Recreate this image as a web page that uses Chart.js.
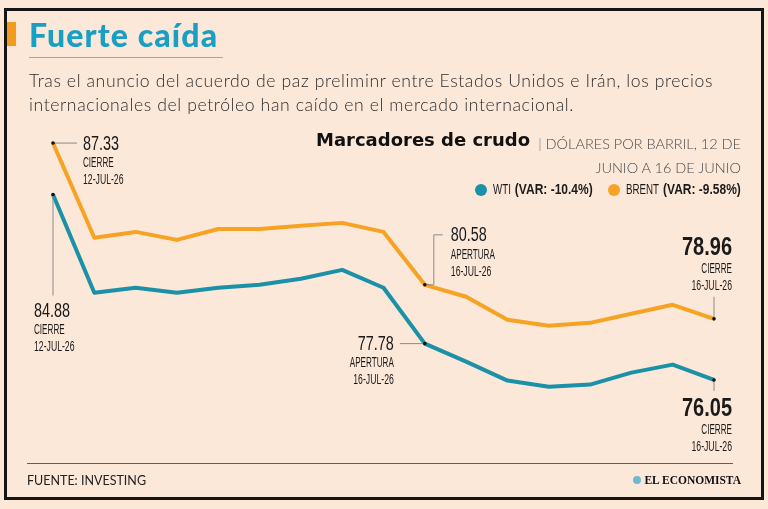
<!DOCTYPE html>
<html>
<head>
<meta charset="utf-8">
<script src="https://cdn.jsdelivr.net/npm/chart.js@4.4.0/dist/chart.umd.min.js"></script>
<style>
  html, body { margin: 0; padding: 0; background: #fce8d9; }
  #wrap { position: relative; width: 768px; height: 509px; overflow: hidden; }
  #frame { position: absolute; left: 4px; top: 8px; width: 754px; height: 486px; border: 3px solid #151515; }
  #chart { position: absolute; left: 0; top: 0; }
  .t { position: absolute; white-space: nowrap; }
  #mark { position: absolute; left: 7px; top: 22px; width: 9px; height: 24px; background: #f39b1c; }
  #title { left: 29px; top: 15px; font: 900 32px Lato, sans-serif; color: #189fc3; letter-spacing: 1.1px; line-height: normal; }
  #uline { position: absolute; left: 29px; top: 57px; width: 194px; height: 1px; background: #5cbfd6; }
  #sub { left: 29px; top: 69px; font: 300 17.6px Lato, sans-serif; color: #2c2c2c; line-height: 24px; letter-spacing: 0.6px; }
  #ctitle { left: 316px; top: 129px; font: 700 18px "DejaVu Sans", sans-serif; color: #111; }
  #cunits { right: 27px; top: 132px; font: 300 14.5px Lato, sans-serif; color: #4a4a4a; text-align: right; line-height: 24px; }
  #fuente { left: 27px; top: 473px; font: 400 12.5px Lato, sans-serif; color: #222; }
  #brand { right: 27px; top: 474px; font: 700 11.5px "Liberation Serif", serif; color: #111; }
  #brand span { display: inline-block; width: 8px; height: 8px; border-radius: 50%; background: #6fb8cf; margin-right: 3px; }
</style>
</head>
<body>
<div id="wrap">
  <canvas id="chart" width="768" height="509"></canvas>
  <div id="frame"></div>
  <div id="mark"></div>
  <div class="t" id="title">Fuerte caída</div>
  <div id="uline"></div>
  <div class="t" id="sub">Tras el anuncio del acuerdo de paz preliminr entre Estados Unidos e Irán, los precios<br>internacionales del petróleo han caído en el mercado internacional.</div>
  <div class="t" id="ctitle">Marcadores de crudo</div>
  <div class="t" id="cunits"><span style="color:#777">|</span> DÓLARES POR BARRIL, 12 DE<br>JUNIO A 16 DE JUNIO</div>
  <div class="t" id="fuente">FUENTE: INVESTING</div>
  <div class="t" id="brand"><span></span>EL ECONOMISTA</div>
</div>
<script>
// datos
const fechas = ['12-jul-26', 'p2', 'p3', 'p4', 'p5', 'p6', 'p7', 'p8', 'p9', '16-jul-26', 'p11', 'p12', 'p13', 'p14', 'p15', 'p16', '16-jul-26 c'];
const wti = [84.88, 80.20, 80.44, 80.20, 80.44, 80.58, 80.87, 81.29, 80.44, 77.78, 76.92, 76.02, 75.73, 75.83, 76.40, 76.78, 76.05];
const brent = [87.33, 82.82, 83.10, 82.72, 83.24, 83.24, 83.39, 83.53, 83.10, 80.58, 80.01, 78.92, 78.63, 78.77, 79.20, 79.63, 78.96];
const leyenda = [
    { nombre: 'WTI', variacion: '(VAR: -10.4%)' },
    { nombre: 'BRENT', variacion: '(VAR: -9.58%)' }
];

const colorWti = '#1a91a7';
const colorBrent = '#f6a323';
const fuente = '"Liberation Sans", Arial, sans-serif';

// etiquetas de los puntos
const notas = [
    { ds: 1, i: 0, valor: '87.33', l1: 'CIERRE', l2: '12-JUL-26' },
    { ds: 0, i: 0, valor: '84.88', l1: 'CIERRE', l2: '12-JUL-26' },
    { ds: 1, i: 9, valor: '80.58', l1: 'APERTURA', l2: '16-JUL-26' },
    { ds: 0, i: 9, valor: '77.78', l1: 'APERTURA', l2: '16-JUL-26' },
    { ds: 1, i: 16, valor: '78.96', l1: 'CIERRE', l2: '16-JUL-26' },
    { ds: 0, i: 16, valor: '76.05', l1: 'CIERRE', l2: '16-JUL-26' }
];

const notasPlugin = {
    id: 'notas',
    afterDatasetsDraw(chart) {
        const ctx = chart.ctx;
        const pt = (n) => chart.getDatasetMeta(n.ds).data[n.i];
        ctx.save();
        ctx.strokeStyle = '#8a8a8a';
        ctx.lineWidth = 1;

        // texto angosto (condensado a mano)
        function txt(s, x, y, align, font, sx) {
            ctx.font = font;
            const w = ctx.measureText(s).width * sx;
            const x0 = align === 'right' ? x - w : x;
            ctx.save();
            ctx.translate(x0, y);
            ctx.scale(sx, 1);
            ctx.textAlign = 'left';
            ctx.textBaseline = 'middle';
            ctx.fillText(s, 0, 0);
            ctx.restore();
            return w;
        }
        function linea(pts) {
            ctx.beginPath();
            ctx.moveTo(pts[0][0], pts[0][1]);
            for (let k = 1; k < pts.length; k++) ctx.lineTo(pts[k][0], pts[k][1]);
            ctx.stroke();
        }
        function bloque(n, x, y, align, bold) {
            ctx.fillStyle = '#1a1a1a';
            if (bold) {
                txt(n.valor, x, y, align, 'bold 25px ' + fuente, 0.8);
                txt(n.l1, x, y + 21, align, '14px ' + fuente, 0.58);
                txt(n.l2, x, y + 38, align, '14px ' + fuente, 0.62);
            } else {
                txt(n.valor, x, y, align, '20px ' + fuente, 0.72);
                txt(n.l1, x, y + 19, align, '14px ' + fuente, 0.58);
                txt(n.l2, x, y + 36, align, '14px ' + fuente, 0.62);
            }
        }

        let p;
        // brent inicio
        p = pt(notas[0]);
        linea([[p.x, p.y], [p.x + 24, p.y]]);
        bloque(notas[0], p.x + 30, p.y + 1, 'left', false);
        // wti inicio
        p = pt(notas[1]);
        linea([[p.x, p.y], [p.x, p.y + 101]]);
        bloque(notas[1], p.x - 19, p.y + 117, 'left', false);
        // brent apertura
        p = pt(notas[2]);
        linea([[p.x, p.y], [p.x + 9, p.y], [p.x + 9, p.y - 50], [p.x + 18, p.y - 50]]);
        bloque(notas[2], p.x + 26, p.y - 49, 'left', false);
        // wti apertura
        p = pt(notas[3]);
        linea([[p.x - 25, p.y], [p.x, p.y]]);
        bloque(notas[3], p.x - 31, p.y + 1, 'right', false);
        // brent cierre
        p = pt(notas[4]);
        linea([[p.x, p.y], [p.x, p.y - 22]]);
        bloque(notas[4], p.x + 18, p.y - 71, 'right', true);
        // wti cierre
        p = pt(notas[5]);
        linea([[p.x, p.y], [p.x, p.y + 11]]);
        bloque(notas[5], p.x + 18, p.y + 29, 'right', true);

        // puntos negros
        ctx.fillStyle = '#111';
        notas.forEach(n => {
            const q = pt(n);
            ctx.beginPath();
            ctx.arc(q.x, q.y, 1.8, 0, Math.PI * 2);
            ctx.fill();
        });

        // leyenda
        const ly = 190;
        [[481, colorWti], [614, colorBrent]].forEach(([lx, c], k) => {
            ctx.fillStyle = c;
            ctx.beginPath();
            ctx.arc(lx, ly, 6, 0, Math.PI * 2);
            ctx.fill();
            ctx.fillStyle = '#1a1a1a';
            const w = txt(leyenda[k].nombre, lx + 12, ly, 'left', '15px ' + fuente, 0.65);
            txt(leyenda[k].variacion, lx + 16 + w, ly, 'left', 'bold 15px ' + fuente, 0.8);
        });

        // linea del pie
        ctx.strokeStyle = '#6e5a50';
        linea([[27, 463.5], [733, 463.5]]);
        ctx.restore();
    }
};

new Chart(document.getElementById('chart'), {
    type: 'line',
    data: {
        labels: fechas,
        datasets: [
            {
                label: 'WTI',
                data: wti,
                borderColor: colorWti,
                borderWidth: 4,
                pointRadius: 0,
                tension: 0,
                borderJoinStyle: 'round'
            },
            {
                label: 'BRENT',
                data: brent,
                borderColor: colorBrent,
                borderWidth: 4,
                pointRadius: 0,
                tension: 0,
                borderJoinStyle: 'round'
            }
        ]
    },
    options: {
        responsive: false,
        animation: false,
        layout: { padding: { left: 53, right: 54, top: 129, bottom: 107 } },
        scales: {
            x: { display: false, offset: false },
            y: { display: false, min: 75, max: 88 }
        },
        plugins: {
            legend: { display: false },
            title: { display: false },
            tooltip: { enabled: false }
        }
    },
    plugins: [notasPlugin]
});
</script>
</body>
</html>
